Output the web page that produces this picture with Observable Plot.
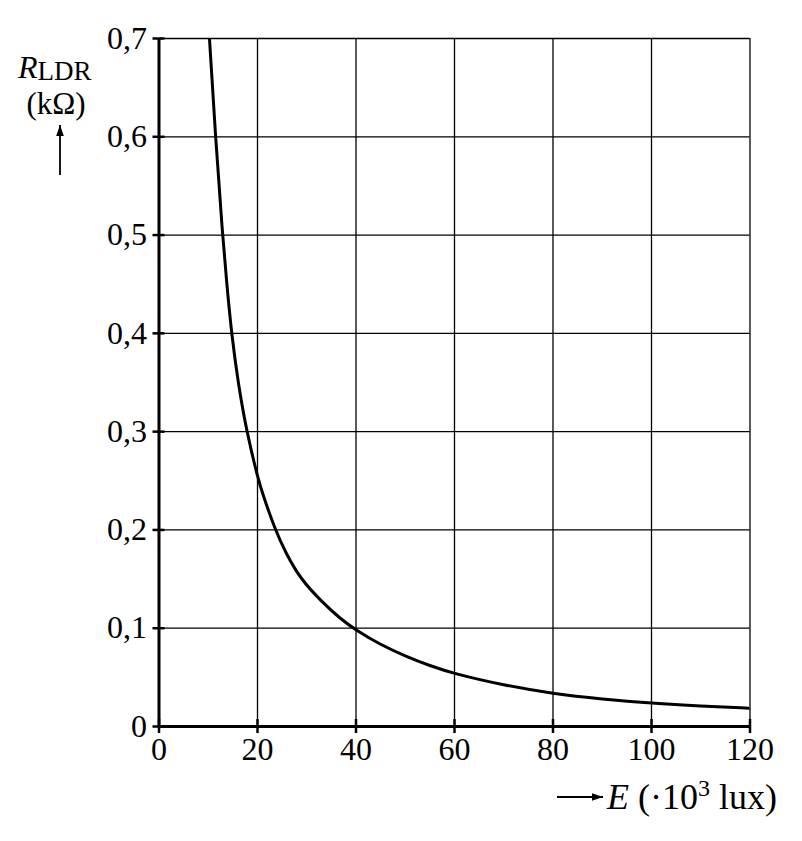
<!DOCTYPE html>
<html>
<head>
<meta charset="utf-8">
<script src="https://cdn.jsdelivr.net/npm/d3@7"></script>
<script src="https://cdn.jsdelivr.net/npm/@observablehq/plot@0.6"></script>
<style>
  body { margin: 0; background: #fff; overflow: hidden; }
  #chart svg { display: block; }
</style>
</head>
<body>
<div id="chart"></div>
<script>
// Illuminance E (·10^3 lux) and resistance R_LDR (kΩ)
const illuminance = [10.25, 11.47, 12.9, 13.77, 14.72, 16.08, 17.8, 20, 21.08, 23.6, 25.7, 28.73, 33.14, 36.85, 40, 45, 50, 55, 60, 70, 80, 90, 100, 110, 119.75];
const resistance  = [0.70, 0.60, 0.50, 0.45, 0.40, 0.349, 0.30, 0.254, 0.236, 0.20, 0.177, 0.150, 0.1265, 0.1095, 0.098, 0.0831, 0.0717, 0.0618, 0.0536, 0.042, 0.0333, 0.0278, 0.0237, 0.0208, 0.0186];
const xTicks = [0, 20, 40, 60, 80, 100, 120];
const yTicks = [0, 0.1, 0.2, 0.3, 0.4, 0.5, 0.6, 0.7];

const data = illuminance.map((e, i) => ({E: e, R: resistance[i]}));
const fmtY = d => d === 0 ? "0" : d.toFixed(1).replace(".", ",");
const FONT = "Liberation Serif, Times New Roman, serif";

const plot = Plot.plot({
  width: 802,
  height: 841,
  marginLeft: 158.5,
  marginRight: 52.5,
  marginTop: 38,
  marginBottom: 115,
  style: {fontFamily: FONT, color: "#000", background: "#fff"},
  x: {domain: [0, 120]},
  y: {domain: [0, 0.7]},
  marks: [
    Plot.gridX(xTicks, {stroke: "#000", strokeOpacity: 1, strokeWidth: 1.3}),
    Plot.gridY(yTicks, {stroke: "#000", strokeOpacity: 1, strokeWidth: 1.3}),
    Plot.axisX(xTicks, {tickSize: 7, tickPadding: 4, tickFormat: d => String(d), strokeWidth: 2.5, label: null}),
    Plot.axisX(xTicks, {tickSize: -7, text: null, strokeWidth: 2.5, label: null}),
    Plot.axisY(yTicks, {tickSize: 6, tickPadding: 6, tickFormat: fmtY, strokeWidth: 2.5, label: null}),
    Plot.axisY(yTicks, {tickSize: -6, text: null, strokeWidth: 2.5, label: null}),
    Plot.ruleX([0], {stroke: "#000", strokeWidth: 3}),
    Plot.ruleY([0], {stroke: "#000", strokeWidth: 3}),
    Plot.line(data, {x: "E", y: "R", curve: "basis", stroke: "#000", strokeWidth: 3, clip: true})
  ]
});

const svg = d3.select(plot);
svg.selectAll('g[aria-label="x-axis tick label"], g[aria-label="y-axis tick label"]')
  .attr("font-size", 32).attr("font-family", FONT);

const defs = svg.append("defs");
defs.append("marker")
  .attr("id", "ah").attr("viewBox", "0 0 10 10").attr("refX", 10).attr("refY", 5)
  .attr("markerWidth", 11).attr("markerHeight", 11).attr("markerUnits", "userSpaceOnUse")
  .attr("orient", "auto")
  .append("path").attr("d", "M0,1.5L10,5L0,8.5z").attr("fill", "#000");

// Y axis label
const yl = svg.append("text").attr("x", 18).attr("y", 78).attr("text-anchor", "start")
  .attr("font-family", FONT).attr("font-size", 32).attr("fill", "#000");
yl.append("tspan").attr("font-style", "italic").text("R");
yl.append("tspan").attr("font-size", 27).attr("dy", 2).text("LDR");
svg.append("text").attr("x", 56).attr("y", 114).attr("text-anchor", "middle")
  .attr("font-family", FONT).attr("font-size", 31).attr("fill", "#000").text("(kΩ)");
svg.append("line").attr("x1", 60).attr("x2", 60).attr("y1", 175).attr("y2", 125)
  .attr("stroke", "#000").attr("stroke-width", 1.8).attr("marker-end", "url(#ah)");

// X axis label
svg.append("line").attr("x1", 557).attr("x2", 603).attr("y1", 797).attr("y2", 797)
  .attr("stroke", "#000").attr("stroke-width", 1.8).attr("marker-end", "url(#ah)");
const xl = svg.append("text").attr("x", 607).attr("y", 809).attr("text-anchor", "start")
  .attr("font-family", FONT).attr("font-size", 36).attr("fill", "#000");
xl.append("tspan").attr("font-style", "italic").text("E");
xl.append("tspan").text(" (·10");
xl.append("tspan").attr("font-size", 24).attr("dy", -13).text("3");
xl.append("tspan").attr("dy", 13).text(" lux)");

document.getElementById("chart").appendChild(plot);
</script>
</body>
</html>
